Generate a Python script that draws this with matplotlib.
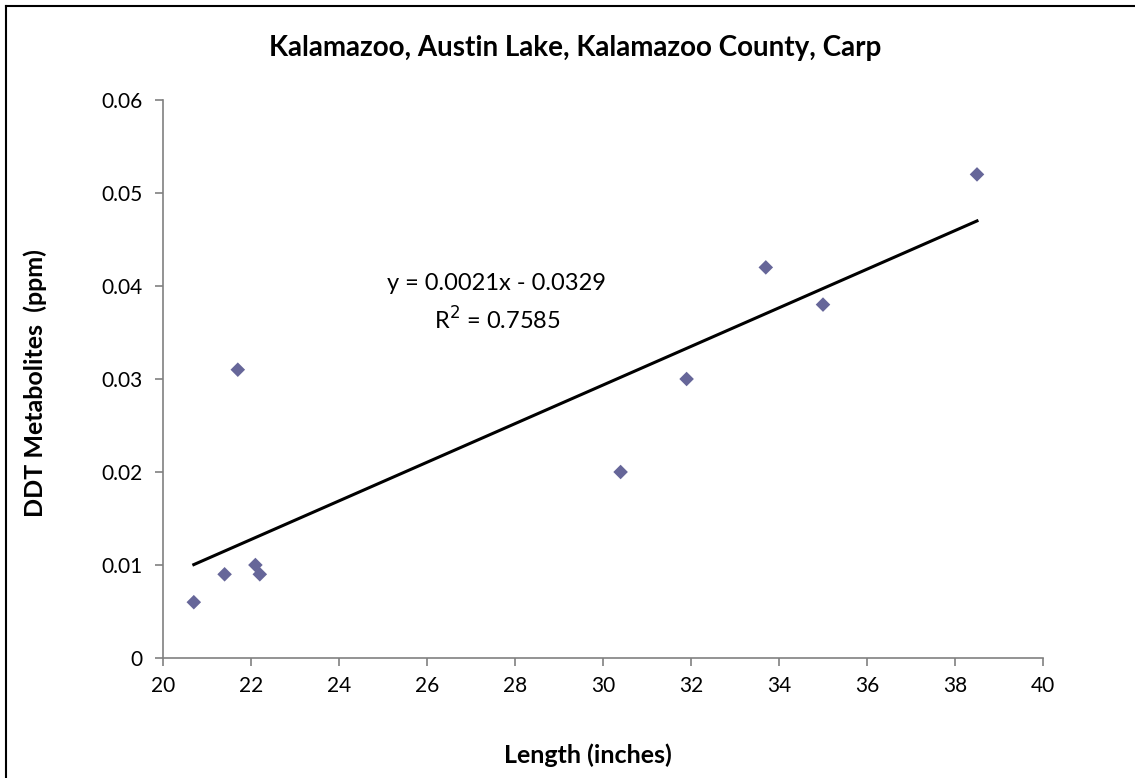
import numpy as np
import matplotlib
matplotlib.use("Agg")
import matplotlib.pyplot as plt
from matplotlib.lines import Line2D

plt.rcParams["font.family"] = ["Lato", "DejaVu Sans"]

# ============================================================
# DATA
# ============================================================

length_in = [20.7, 21.4, 21.7, 22.1, 22.2, 30.4, 31.9, 33.7, 35.0, 38.5]
ddt_ppm = [0.006, 0.009, 0.031, 0.010, 0.009, 0.020, 0.030, 0.042, 0.038, 0.052]

x_ticks = [20, 22, 24, 26, 28, 30, 32, 34, 36, 38, 40]
y_ticks = [0, 0.01, 0.02, 0.03, 0.04, 0.05, 0.06]
y_tick_labels = ["0", "0.01", "0.02", "0.03", "0.04", "0.05", "0.06"]

title = "Kalamazoo, Austin Lake, Kalamazoo County, Carp"
eq_text = "y = 0.0021x - 0.0329"
r2_text = "R$^2$ = 0.7585"

# ============================================================
# PLOT
# ============================================================

W, H = 1135, 778
fig = plt.figure(figsize=(W / 100, H / 100), dpi=100)
ax = fig.add_axes([163 / W, 1 - 658 / H, 880 / W, 558 / H])

x = np.array(length_in)
y = np.array(ddt_ppm)
slope, intercept = np.polyfit(x, y, 1)
xs = np.array([x.min(), x.max()])
ax.plot(xs, slope * xs + intercept, color="black", linewidth=2.2, zorder=2)

ax.scatter(x, y, marker="D", s=55, color="#666699", edgecolors="none", zorder=3)

ax.set_xlim(20, 40)
ax.set_ylim(0, 0.06)
ax.set_xticks(x_ticks)
ax.set_yticks(y_ticks)
ax.set_yticklabels(y_tick_labels)

for side in ["top", "right"]:
    ax.spines[side].set_visible(False)
for side in ["left", "bottom"]:
    ax.spines[side].set_color("#808080")
    ax.spines[side].set_linewidth(1.2)

ax.tick_params(axis="both", direction="out", length=6, width=1.2,
               color="#808080", labelsize=15)
ax.tick_params(axis="y", pad=9)
ax.tick_params(axis="x", pad=7)

ax.set_xlabel("Length (inches)", fontsize=18, fontweight="bold")
ax.xaxis.set_label_coords((588 - 163) / 880, (658 - 755) / 558)
ax.xaxis.label.set_va("center")

ax.set_ylabel("DDT Metabolites  (ppm)", fontsize=18, fontweight="bold")
ax.yaxis.set_label_coords((35 - 163) / 880, (658 - 383) / 558)
ax.yaxis.label.set_va("center")

fig.text(575 / W, 1 - 48 / H, title, fontsize=20, fontweight="bold",
         ha="center", va="center")

ax.text(497 / W, 1 - 283 / H, eq_text, transform=fig.transFigure, fontsize=17,
        ha="center", va="center")
ax.text(497 / W, 1 - 320 / H, r2_text, transform=fig.transFigure, fontsize=17,
        ha="center", va="center")

# outer chart frame (only top/left edges fall inside the image)
fig.add_artist(Line2D([6 / W, 6 / W], [0, 1 - 6 / H], color="black",
                      linewidth=1.5, transform=fig.transFigure))
fig.add_artist(Line2D([6 / W, 1], [1 - 6 / H, 1 - 6 / H], color="black",
                      linewidth=1.5, transform=fig.transFigure))

fig.savefig("out.png", dpi=100)
